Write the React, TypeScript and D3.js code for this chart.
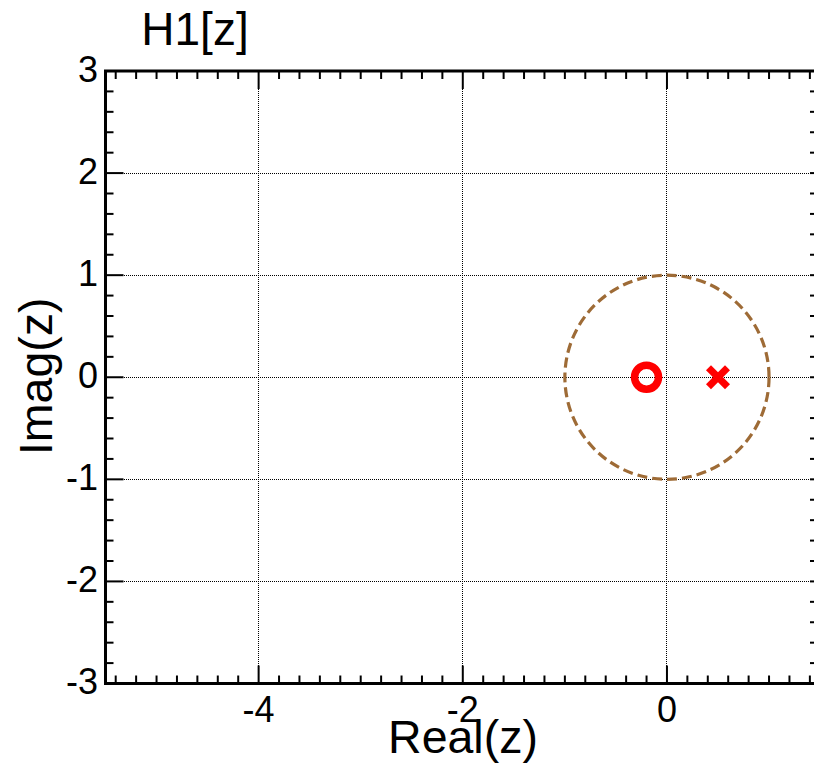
import React from "react";
import * as d3 from "d3";

const titleText = "H1[z]";
const xLabel = "Real(z)";
const yLabel = "Imag(z)";
const xMajorTicks = [-4, -2, 0];
const yMajorTicks = [-3, -2, -1, 0, 1, 2, 3];
const zerosRe = [-0.2];
const zerosIm = [0];
const polesRe = [0.5];
const polesIm = [0];
const xDomain = [-5.5, 1.47];
const yDomain = [-3, 3];

const W = 814;
const H = 779;
const L = 105.5;
const T = 71;
const B = 683.5;
const unit = (B - T) / 6;
const R = L + (xDomain[1] - xDomain[0]) * unit;

export default function App() {
  const x = d3.scaleLinear().domain(xDomain).range([L, R]);
  const y = d3.scaleLinear().domain(yDomain).range([B, T]);
  const font = "'Liberation Sans', Arial, sans-serif";
  const snap = (v: number) => Math.floor(v) + 0.5;
  const xMinor = d3.range(-5.4, 1.41, 0.2).map((v) => Math.round(v * 10) / 10);
  const yMinor = d3.range(-2.8, 2.81, 0.2).map((v) => Math.round(v * 10) / 10);
  const isMajor = (v: number) => Math.abs(v - Math.round(v)) < 1e-6 && Math.round(v) % 2 === 0;
  const isMajorY = (v: number) => Math.abs(v - Math.round(v)) < 1e-6;
  const r1 = x(1) - x(0);
  const minorLen = 8;
  const majorLen = 18;
  const grid = "#000";
  return (
    <svg width={W} height={H} style={{ position: "absolute", left: 0, top: 0, background: "#fff" }}>
      <rect x={0} y={0} width={W} height={H} fill="#fff" />
      {/* grid */}
      {xMajorTicks.map((v) => (
        <line key={"gx" + v} x1={snap(x(v))} x2={snap(x(v))} y1={T} y2={B} stroke={grid} strokeWidth={1} strokeDasharray="1,1" shapeRendering="crispEdges" />
      ))}
      {yMajorTicks.filter((v) => v > -3 && v < 3).map((v) => (
        <line key={"gy" + v} x1={L} x2={W} y1={snap(y(v))} y2={snap(y(v))} stroke={grid} strokeWidth={1} strokeDasharray="1,1" shapeRendering="crispEdges" />
      ))}
      {/* unit circle */}
      <circle cx={x(0)} cy={y(0)} r={r1} fill="none" stroke="#9e6b36" strokeWidth={3.2} strokeDasharray="10,5" />
      {/* zeros */}
      {zerosRe.map((re, i) => (
        <circle key={"z" + i} cx={x(re)} cy={y(zerosIm[i])} r={12} fill="none" stroke="#ff0000" strokeWidth={7.5} />
      ))}
      {/* poles */}
      {polesRe.map((re, i) => {
        const cx = x(re);
        const cy = y(polesIm[i]);
        const s = 9.5;
        return (
          <g key={"p" + i} stroke="#ff0000" strokeWidth={7}>
            <line x1={cx - s} y1={cy - s} x2={cx + s} y2={cy + s} />
            <line x1={cx - s} y1={cy + s} x2={cx + s} y2={cy - s} />
          </g>
        );
      })}
      {/* ticks bottom & top */}
      {xMinor.map((v) => {
        const len = isMajor(v) ? majorLen : minorLen;
        return (
          <g key={"tx" + v} stroke="#000" strokeWidth={2}>
            <line x1={x(v)} x2={x(v)} y1={B} y2={B - len} />
            <line x1={x(v)} x2={x(v)} y1={T} y2={T + len} />
          </g>
        );
      })}
      {/* ticks left & right */}
      {yMinor.map((v) => {
        const len = isMajorY(v) ? majorLen : minorLen;
        return (
          <g key={"ty" + v} stroke="#000" strokeWidth={2}>
            <line x1={L} x2={L + len} y1={y(v)} y2={y(v)} />
            <line x1={W} x2={W - 4} y1={y(v)} y2={y(v)} />
          </g>
        );
      })}
      {/* axes box */}
      <path d={`M${W},${T} H${L} V${B} H${W}`} fill="none" stroke="#000" strokeWidth={3} />
      {/* tick labels */}
      {xMajorTicks.map((v) => (
        <text key={"lx" + v} x={x(v)} y={722} textAnchor="middle" fontFamily={font} fontSize={36} fill="#000">
          {v}
        </text>
      ))}
      {yMajorTicks.map((v) => (
        <text key={"ly" + v} x={98} y={y(v) + 10.5} textAnchor="end" fontFamily={font} fontSize={36} fill="#000">
          {v}
        </text>
      ))}
      {/* labels */}
      <text x={463} y={753} textAnchor="middle" fontFamily={font} fontSize={46.5} fill="#000">
        {xLabel}
      </text>
      <text
        transform={`translate(52,${(T + B) / 2 - 1}) rotate(-90)`}
        textAnchor="middle"
        fontFamily={font}
        fontSize={46.5}
        fill="#000"
      >
        {yLabel}
      </text>
      <text x={195} y={45} textAnchor="middle" fontFamily={font} fontSize={46} fill="#000">
        {titleText}
      </text>
    </svg>
  );
}
